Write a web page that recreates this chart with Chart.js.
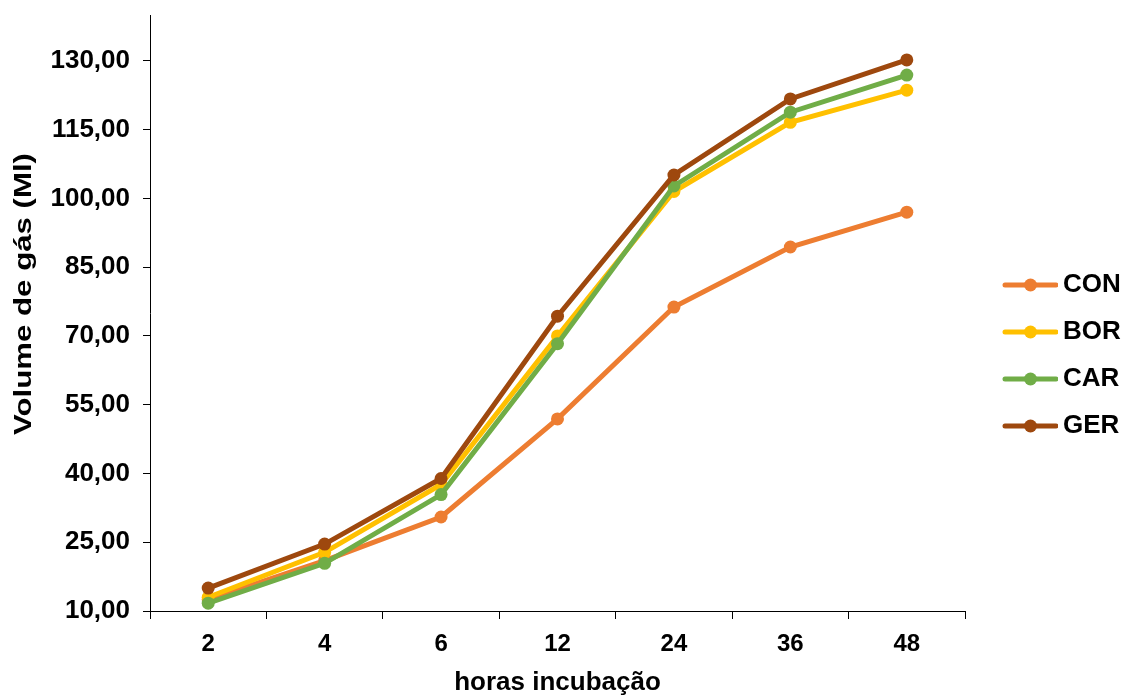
<!DOCTYPE html>
<html>
<head>
<meta charset="utf-8">
<script src="https://cdn.jsdelivr.net/npm/chart.js@4/dist/chart.umd.min.js"></script>
<style>
  html, body { margin: 0; padding: 0; background: #fff; }
  #wrap { width: 1129px; height: 696px; }
</style>
</head>
<body>
<div id="wrap"><canvas id="gasChart" width="1129" height="696"></canvas></div>
<script>
// dados
const horas = ['2', '4', '6', '12', '24', '36', '48'];
const yTicks = [10, 25, 40, 55, 70, 85, 100, 115, 130];

const serieCON = [12.5, 21.0, 30.5, 51.9, 76.3, 89.4, 97.0];
const serieBOR = [13.0, 22.8, 37.6, 70.0, 101.5, 116.6, 123.6];
const serieCAR = [11.7, 20.4, 35.4, 68.3, 102.7, 118.8, 126.9];
const serieGER = [15.0, 24.6, 38.9, 74.3, 105.1, 121.7, 130.2];

const nomes = ['CON', 'BOR', 'CAR', 'GER'];
const cores = ['#ED7D31', '#FFC000', '#70AD47', '#9E480E'];
const tituloY = 'Volume de gás (Ml)';

Chart.defaults.font.family = "'Liberation Sans', Arial, sans-serif";
Chart.defaults.font.weight = 'bold';
Chart.defaults.font.size = 25;
Chart.defaults.color = '#000';

// símbolo da legenda: linha com marcador (estilo Excel)
function legendSymbol(color) {
    const c = document.createElement('canvas');
    c.width = 80;
    c.height = 16;
    const g = c.getContext('2d');
    g.strokeStyle = color;
    g.lineWidth = 5;
    g.lineCap = 'round';
    g.beginPath();
    g.moveTo(27, 8);
    g.lineTo(78, 8);
    g.stroke();
    g.fillStyle = color;
    g.beginPath();
    g.arc(52.5, 8, 6.5, 0, Math.PI * 2);
    g.fill();
    return c;
}

// título do eixo Y (no original o texto aparece esticado na vertical)
const yTitlePlugin = {
    id: 'yTitle',
    afterDraw(chart) {
        const c = chart.ctx;
        const midY = (chart.chartArea.top + chart.chartArea.bottom) / 2 - 19;
        c.save();
        c.translate(24, midY);
        c.rotate(-Math.PI / 2);
        c.scale(1.3, 1);
        c.font = "bold 24px 'Liberation Sans', Arial, sans-serif";
        c.fillStyle = '#000';
        c.textAlign = 'center';
        c.textBaseline = 'middle';
        c.fillText(tituloY, 0, 0);
        c.restore();
    }
};

const series = [serieCON, serieBOR, serieCAR, serieGER];
const datasets = series.map((s, i) => ({
    label: nomes[i],
    data: s,
    borderColor: cores[i],
    backgroundColor: cores[i],
    borderWidth: 5,
    pointRadius: 6.5,
    pointHoverRadius: 6.5,
    pointBorderWidth: 0,
    tension: 0,
    order: series.length - i   // GER por cima
}));

const ctx = document.getElementById('gasChart').getContext('2d');
new Chart(ctx, {
    type: 'line',
    data: { labels: horas, datasets: datasets },
    plugins: [yTitlePlugin],
    options: {
        responsive: false,
        animation: false,
        layout: { padding: { top: 15, left: 0, bottom: 0, right: 0 } },
        scales: {
            x: {
                offset: true,
                grid: { display: true, offset: true, drawOnChartArea: false, tickLength: 8, color: '#000' },
                border: { display: true, color: '#000', width: 1 },
                ticks: { padding: 11, font: { size: 24 } },
                title: { display: true, text: 'horas incubação', font: { size: 26, lineHeight: 1 }, padding: 0 },
                afterFit: (scale) => { scale.height = 85; }
            },
            y: {
                min: 10,
                max: 140,
                grid: { display: true, drawOnChartArea: false, tickLength: 7, color: '#000' },
                border: { display: true, color: '#000', width: 1 },
                ticks: {
                    padding: 13,
                    font: { size: 26 },
                    callback: (v) => Number(v).toFixed(2).replace('.', ',')
                },
                afterBuildTicks: (scale) => { scale.ticks = yTicks.map(v => ({ value: v })); },
                afterFit: (scale) => {
                    scale.width = 150;
                    scale.paddingTop = 0;
                    scale.paddingBottom = 0;
                }
            }
        },
        plugins: {
            tooltip: { enabled: false },
            legend: {
                position: 'right',
                maxWidth: 164,
                labels: {
                    usePointStyle: true,
                    pointStyleWidth: 64,
                    padding: 21,
                    font: { size: 26 },
                    generateLabels: (chart) => chart.data.datasets.map((ds, i) => ({
                        text: ds.label,
                        fillStyle: ds.borderColor,
                        strokeStyle: ds.borderColor,
                        pointStyle: legendSymbol(ds.borderColor),
                        fontColor: '#000',
                        lineWidth: 0,
                        hidden: false,
                        datasetIndex: i
                    }))
                }
            }
        }
    }
});
</script>
</body>
</html>
